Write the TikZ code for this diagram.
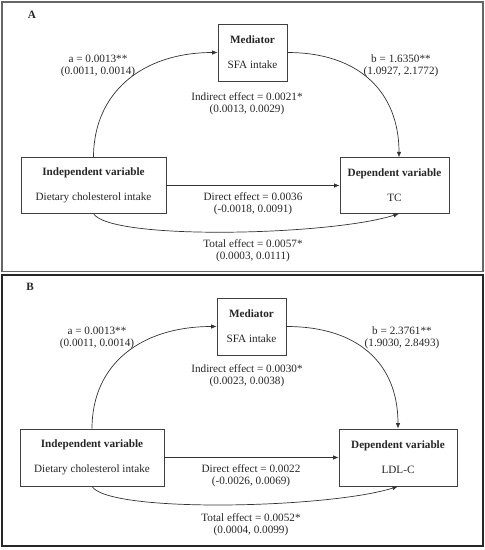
\documentclass[tikz,border=0pt]{standalone}
\usepackage{fontspec}
\setmainfont{Liberation Serif}
\usetikzlibrary{arrows.meta}
\begin{document}
\begin{tikzpicture}[x=1pt,y=-1pt,
  every node/.style={font=\fontsize{11.2}{12.3}\selectfont, text=black!85, inner sep=0pt},
  varbox/.style={draw=black!75, line width=0.8pt, align=center},
  lbl/.style={align=center},
  conn/.style={draw=black!80, line width=0.7pt, -{Latex[length=5.5pt,width=4.5pt]}},
  frameA/.style={draw=black!60, line width=1.4pt},
  frameB/.style={draw=black!85, line width=1.2pt}]
\useasboundingbox (0,0) rectangle (485,550);
% ---------- Panel A ----------
\draw[frameA] (2,2) rectangle (483,271.5);
\node[font=\fontsize{11.2}{12.3}\selectfont\bfseries] (labA) at (32,15) {A};
\node[varbox, minimum width=69pt, minimum height=57pt] (medA) at (252.5,52.5) {\textbf{Mediator}\\[12.5pt]SFA intake};
\node[varbox, minimum width=145pt, minimum height=55.5pt] (indA) at (93.5,185.5) {\textbf{Independent variable}\\[12.5pt]Dietary cholesterol intake};
\node[varbox, minimum width=109pt, minimum height=55.5pt] (depA) at (394.5,185.5) {\textbf{Dependent variable}\\[12.5pt]TC};
\draw[conn] (indA.north) .. controls +(0,-65) and +(-75,0) .. (medA.west);
\draw[conn] (medA.east) .. controls +(72,0) and +(0,-65) .. ([xshift=4.5pt]depA.north);
\draw[conn] (indA.east) -- (depA.west);
\draw[conn] (indA.south) .. controls +(17,27) and +(-69,22) .. ([xshift=4.5pt]depA.south);
\node[lbl] (aA) at (98,66) {a = 0.0013**\\(0.0011, 0.0014)};
\node[lbl] (bA) at (401,66) {b = 1.6350**\\(1.0927, 2.1772)};
\node[lbl] (indirA) at (247,103.5) {Indirect effect = 0.0021*\\(0.0013, 0.0029)};
\node[lbl] (dirA) at (253,204) {Direct effect = 0.0036\\(-0.0018, 0.0091)};
\node[lbl] (totA) at (253,250.5) {Total effect = 0.0057*\\(0.0003, 0.0111)};
% ---------- Panel B ----------
\draw[frameB] (2,275) rectangle (483,546);
\begin{scope}[shift={(0,272)}]
\node[font=\fontsize{11.2}{12.3}\selectfont\bfseries] (labB) at (30,15) {B};
\node[varbox, minimum width=69pt, minimum height=57pt] (medB) at (251.5,54.5) {\textbf{Mediator}\\[12.5pt]SFA intake};
\node[varbox, minimum width=144pt, minimum height=57pt] (indB) at (92,185.5) {\textbf{Independent variable}\\[12.5pt]Dietary cholesterol intake};
\node[varbox, minimum width=118pt, minimum height=57pt] (depB) at (398,185.5) {\textbf{Dependent variable}\\[12.5pt]LDL-C};
\draw[conn] (indB.north) .. controls +(0,-65) and +(-75,0) .. (medB.west);
\draw[conn] (medB.east) .. controls +(72,0) and +(0,-65) .. (depB.north);
\draw[conn] (indB.east) -- (depB.west);
\draw[conn] (indB.south) .. controls +(17,27) and +(-69,22) .. (depB.south);
\node[lbl] (aB) at (97,66) {a = 0.0013**\\(0.0011, 0.0014)};
\node[lbl] (bB) at (402,66) {b = 2.3761**\\(1.9030, 2.8493)};
\node[lbl] (indirB) at (247,103.5) {Indirect effect = 0.0030*\\(0.0023, 0.0038)};
\node[lbl] (dirB) at (251,204) {Direct effect = 0.0022\\(-0.0026, 0.0069)};
\node[lbl] (totB) at (251,253) {Total effect = 0.0052*\\(0.0004, 0.0099)};
\end{scope}
\end{tikzpicture}
\end{document}
